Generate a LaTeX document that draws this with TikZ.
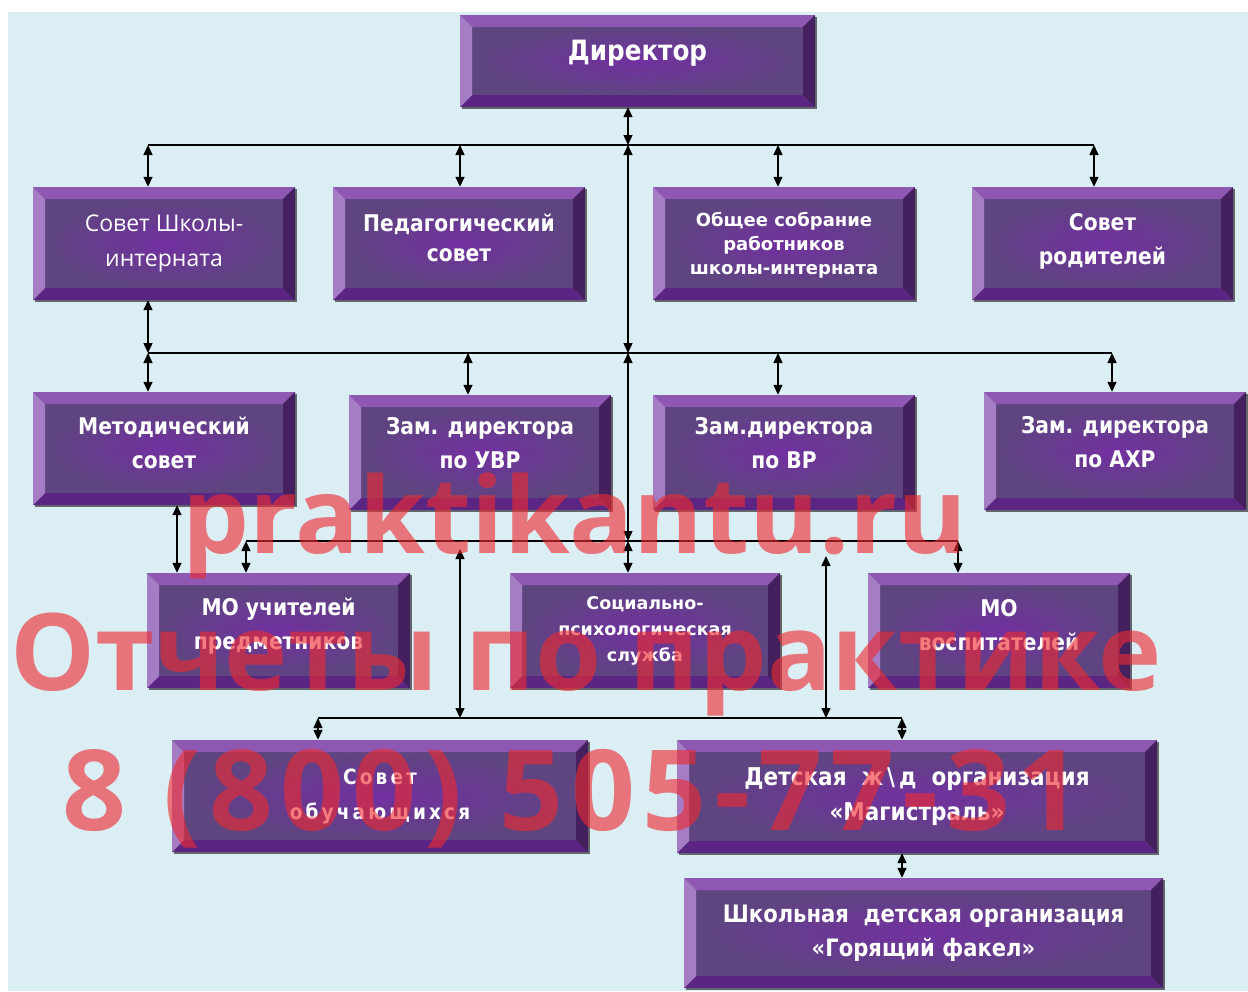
\documentclass[tikz,border=0pt]{standalone}
\usepackage{fontspec}
\setmainfont{DejaVu Sans}
\newfontfamily\bxfont{DejaVu Sans}[FakeStretch=0.88]
\newfontfamily\bxwide{DejaVu Sans}
\newfontfamily\opfont{Open Sans}
\usetikzlibrary{arrows.meta,calc,shadows}
\definecolor{bgblue}{HTML}{DAEEF3}
\definecolor{bvtop}{HTML}{8E58B2}
\definecolor{bvleft}{HTML}{A57DC5}
\definecolor{bvright}{HTML}{45205F}
\definecolor{bvbot}{HTML}{5B2683}
\definecolor{facein}{HTML}{7230A0}
\definecolor{faceout}{HTML}{5E4580}
\definecolor{wmred}{HTML}{EE2A30}
\tikzset{
  bvbox/.style={rectangle, inner sep=0pt, text=white, align=center, fill=faceout,
    drop shadow={shadow xshift=1.5pt,shadow yshift=-2pt,fill=black!80,opacity=0.7},
    path picture={
      \coordinate (bvNW) at (path picture bounding box.north west);
      \coordinate (bvNE) at (path picture bounding box.north east);
      \coordinate (bvSW) at (path picture bounding box.south west);
      \coordinate (bvSE) at (path picture bounding box.south east);
      \shade[inner color=facein, outer color=faceout] ($(bvNW)+(12pt,-12pt)$) rectangle ($(bvSE)+(-12pt,12pt)$);
      \fill[bvtop] (bvNW) -- (bvNE) -- ($(bvNE)+(-12pt,-12pt)$) -- ($(bvNW)+(12pt,-12pt)$) -- cycle;
      \fill[bvbot] (bvSW) -- (bvSE) -- ($(bvSE)+(-12pt,12pt)$) -- ($(bvSW)+(12pt,12pt)$) -- cycle;
      \fill[bvleft] (bvNW) -- (bvSW) -- ($(bvSW)+(12pt,12pt)$) -- ($(bvNW)+(12pt,-12pt)$) -- cycle;
      \fill[bvright] (bvNE) -- (bvSE) -- ($(bvSE)+(-12pt,12pt)$) -- ($(bvNE)+(-12pt,-12pt)$) -- cycle;
    }},
  bxtext/.style={font=\bxfont\bfseries\fontsize{23}{34}\selectfont},
  bxsmall/.style={font=\bxwide\bfseries\fontsize{17.5}{26}\selectfont},
  ln/.style={line width=1.4pt, draw=black},
  dbl/.style={ln, {Triangle[width=9pt,length=10pt]}-{Triangle[width=9pt,length=10pt]}},
  wm/.style={font=\opfont\bfseries\fontsize{106}{106}\selectfont, text=wmred, text opacity=0.62, inner sep=0pt, anchor=base}
}
\begin{document}
\begin{tikzpicture}[x=1pt,y=-1pt]
\useasboundingbox (0,0) rectangle (1248,991);
\fill[white] (0,0) rectangle (1248,991);
\fill[bgblue] (8,12) rectangle (1248,991);

% boxes
\node[bvbox, minimum width=355pt, minimum height=92pt, text depth=22pt, font=\bxfont\bfseries\fontsize{28}{34}\selectfont] (dir) at (637.5,61) {Директор};

\node[bvbox, minimum width=262pt, minimum height=113pt, font=\opfont\fontsize{23}{35}\selectfont] (sovet) at (164,243.5) {Совет Школы-\\интерната};
\node[bvbox, minimum width=252pt, minimum height=113pt, text depth=12pt, font=\bxfont\bfseries\fontsize{23}{30}\selectfont] (ped) at (459,243.5) {Педагогический\\совет};
\node[bvbox, minimum width=262pt, minimum height=113pt, text depth=0pt, font=\bxwide\bfseries\fontsize{18}{24}\selectfont] (obsh) at (784,243.5) {Общее собрание\\работников\\школы-интерната};
\node[bvbox, bxtext, minimum width=261pt, minimum height=113pt, text depth=9pt] (rod) at (1102.5,243.5) {Совет\\родителей};

\node[bvbox, bxtext, minimum width=262pt, minimum height=113pt, text depth=12pt] (metod) at (164,448.5) {Методический\\совет};
\node[bvbox, bxtext, minimum width=262pt, minimum height=115pt, text depth=19pt] (zuvr) at (480,452.5) {Зам. директора\\по УВР};
\node[bvbox, bxtext, minimum width=262pt, minimum height=115pt, text depth=19pt] (zvr) at (784,452.5) {Зам.директора\\по ВР};
\node[bvbox, bxtext, minimum width=262pt, minimum height=118pt, text depth=19pt] (zahr) at (1115,451) {Зам. директора\\по АХР};

\node[bvbox, bxtext, minimum width=263pt, minimum height=115pt, text depth=13pt] (mou) at (278.5,630.5) {МО учителей\\предметников};
\node[bvbox, bxsmall, minimum width=270pt, minimum height=115pt] (soc) at (645,630.5) {Социально-\\психологическая\\служба};
\node[bvbox, bxtext, minimum width=262pt, minimum height=115pt, text depth=12pt] (mov) at (999,630.5) {МО\\воспитателей};

\node[bvbox, minimum width=416pt, minimum height=112pt, font=\bxfont\bfseries\fontsize{21}{35}\selectfont\addfontfeature{LetterSpace=15}] (sovob) at (380,796) {Совет\\обучающихся};
\node[bvbox, minimum width=480pt, minimum height=113pt, font=\bxfont\bfseries\fontsize{24.5}{35}\selectfont] (det) at (917,796.5) {Детская~ ж\,\textbackslash\,д~ организация\\«Магистраль»};
\node[bvbox, minimum width=479pt, minimum height=110pt, font=\bxfont\bfseries\fontsize{24}{34}\selectfont] (shk) at (923.5,933) {Школьная~ детская организация\\«Горящий факел»};

% bus coordinates
\coordinate (sp1) at (628,145);
\coordinate (sp2) at (628,353);
\coordinate (sp3) at (628,541);
\coordinate (b1L) at (148,145);
\coordinate (b1R) at (1094,145);
\coordinate (b1p) at (460,145);
\coordinate (b1o) at (778,145);
\coordinate (b2L) at (148,353);
\coordinate (b2R) at (1112,353);
\coordinate (b2u) at (468,353);
\coordinate (b2v) at (778,353);
\coordinate (b3L) at (246,541);
\coordinate (b3R) at (958,541);
\coordinate (b4L) at (318,718);
\coordinate (b4R) at (902,718);
\coordinate (b4a) at (460,718);
\coordinate (b4b) at (826,718);
\coordinate (fa) at (460,549);
\coordinate (fb) at (826,556);
\coordinate (m1) at (177,0);

% connectors
\draw[ln] (b1L) -- (b1R);
\draw[dbl] (dir.south -| sp1) -- (sp1);
\draw[dbl] (b1L) -- (b1L |- sovet.north);
\draw[dbl] (b1p) -- (b1p |- ped.north);
\draw[dbl] (b1o) -- (b1o |- obsh.north);
\draw[dbl] (b1R) -- (b1R |- rod.north);
\draw[dbl] (sp1) -- (sp2);
\draw[ln] (b2L) -- (b2R);
\draw[dbl] (b2L |- sovet.south) -- (b2L);
\draw[dbl] (b2L) -- (b2L |- metod.north);
\draw[dbl] (b2u) -- (b2u |- zuvr.north);
\draw[dbl] (b2v) -- (b2v |- zvr.north);
\draw[dbl] (b2R) -- (b2R |- zahr.north);
\draw[dbl] (sp2) -- (sp3);
\draw[ln] (b3L) -- (b3R);
\draw[dbl] (m1 |- metod.south) -- (m1 |- mou.north);
\draw[dbl] (b3L) -- (b3L |- mou.north);
\draw[dbl] (sp3) -- (sp3 |- soc.north);
\draw[dbl] (b3R) -- (b3R |- mov.north);
\draw[dbl] (fa) -- (b4a);
\draw[dbl] (fb) -- (b4b);
\draw[ln] (b4L) -- (b4R);
\draw[dbl] (b4L) -- (b4L |- sovob.north);
\draw[dbl] (b4R) -- (b4R |- det.north);
\draw[dbl] (b4R |- det.south) -- (b4R |- shk.north);

% watermark
\node[wm] (wm1) at (575,553) {praktikantu.ru};
\node[wm, font=\opfont\bfseries\fontsize{107}{107}\selectfont] (wm2) at (586,690) {Отчеты по практике};
\node[wm, font=\opfont\bfseries\fontsize{112}{112}\selectfont\addfontfeature{LetterSpace=7}] (wm3) at (572,830) {8 (800) 505-77-31};
\end{tikzpicture}
\end{document}
